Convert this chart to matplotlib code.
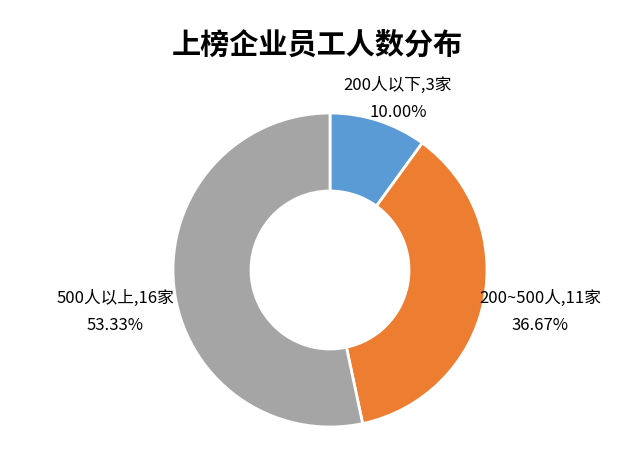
import matplotlib.pyplot as plt

plt.rcParams['font.family'] = ['Noto Sans CJK SC', 'DejaVu Sans']

categories = ['200人以下', '200~500人', '500人以上']
counts = [3, 11, 16]
percents = ['10.00%', '36.67%', '53.33%']
colors = ['#5B9BD5', '#ED7D31', '#A5A5A5']

fig = plt.figure(figsize=(6.35, 4.5), dpi=100)
ax = fig.add_axes([0, 0, 1, 1])

ax.pie(counts, colors=colors, startangle=90, counterclock=False,
       center=(330, 180), radius=157, frame=True,
       wedgeprops=dict(width=78, edgecolor='white', linewidth=2))
ax.set_xlim(0, 635)
ax.set_ylim(0, 450)
ax.axis('off')

label_pos = [(398, 351), (540, 138), (115, 138)]
for cat, n, p, (x, y) in zip(categories, counts, percents, label_pos):
    ax.text(x, y, f'{cat},{n}家\n{p}', ha='center', va='center',
            fontsize=12, linespacing=1.75, color='#000000')

fig.text(0.5, 0.9, '上榜企业员工人数分布', ha='center', va='center',
         fontsize=21, fontweight='bold')

fig.savefig('out.png', dpi=100)
